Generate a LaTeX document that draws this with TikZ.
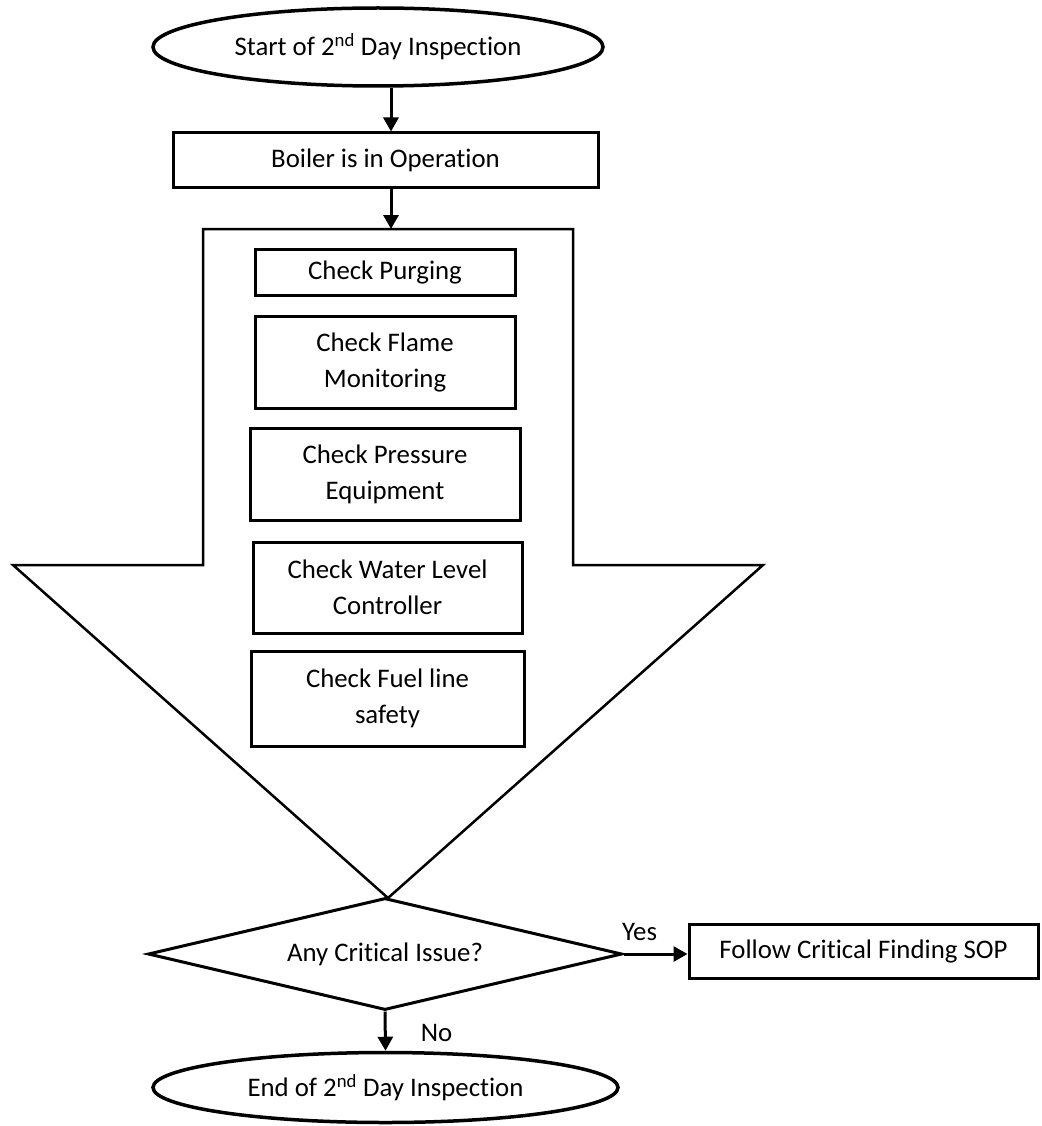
\documentclass[tikz,border=0pt]{standalone}
\usepackage{fontspec}
\setmainfont{Carlito}[Ligatures=NoCommon]
\usetikzlibrary{shapes.geometric,arrows.meta}
\begin{document}
\begin{tikzpicture}[x=1pt,y=-1pt,
 every node/.style={font=\fontsize{26.8}{36}\selectfont, align=center},
 box/.style={draw, line width=3pt, rectangle, inner sep=0pt},
 term/.style={draw, line width=3.5pt, ellipse, inner sep=0pt},
 dec/.style={draw, line width=3pt, diamond, inner sep=0pt, aspect=4.2},
 arr/.style={line width=3pt, -{Triangle[length=14pt,width=15pt]}},
 lbl/.style={inner sep=0pt}]
\useasboundingbox (0,0) rectangle (1041,1126);
\coordinate (ax) at (391,0);
% terminals and boxes
\node[term, minimum width=450pt, minimum height=78pt] (start) at (378,47) {Start of 2\textsuperscript{nd} Day Inspection};
\node[box, minimum width=425pt, minimum height=55pt] (boiler) at (385.5,160.5) {Boiler is in Operation};
% big arrow
\draw[line width=2.5pt, line join=miter] (203,229) -- (573,229) -- (573,565) -- (763,565) -- (388,898) -- (13,565) -- (203,565) -- cycle;
\coordinate (atop) at (388,229);
% inner check boxes
\node[box, minimum width=260pt, minimum height=46pt] (purge) at (385,272.5) {Check Purging};
\node[box, minimum width=260pt, minimum height=92pt] (flame) at (385,362) {Check Flame\\Monitoring};
\node[box, minimum width=270pt, minimum height=92pt] (press) at (385,474) {Check Pressure\\Equipment};
\node[box, minimum width=269pt, minimum height=91pt] (water) at (387.5,587.5) {Check Water Level\\Controller};
\node[box, minimum width=273pt, minimum height=95pt] (fuel) at (387.5,698.5) {Check Fuel line\\safety};
% decision
\node[dec, minimum width=474pt, minimum height=112pt] (crit) at (385,954) {Any Critical Issue?};
\node[box, minimum width=349pt, minimum height=54pt] (sop) at (863.5,951) {Follow Critical Finding SOP};
\node[term, minimum width=465pt, minimum height=70pt] (endn) at (385.5,1087.5) {End of 2\textsuperscript{nd} Day Inspection};
% connectors
\draw[arr] (start.south -| ax) -- (boiler.north -| ax);
\draw[arr] (boiler.south -| ax) -- (atop -| ax);
\draw[arr] (crit.east) -- (crit.east -| sop.west) node[lbl, pos=0.25, above=12pt] (yes) {Yes};
\draw[arr] (crit.south) -- (endn.north) node[lbl, pos=0.55, right=34pt] (no) {No};
\end{tikzpicture}
\end{document}
